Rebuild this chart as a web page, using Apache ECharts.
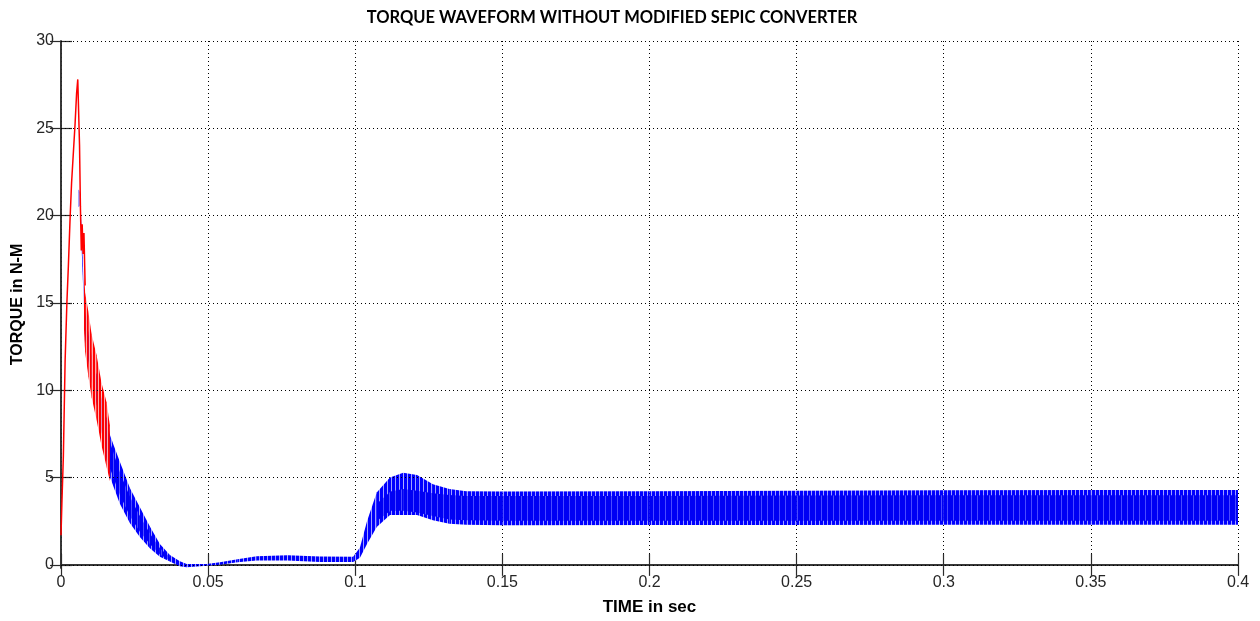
<!DOCTYPE html>
<html><head><meta charset="utf-8">
<script src="https://cdn.jsdelivr.net/npm/echarts@6/dist/echarts.min.js"></script>
<style>html,body{margin:0;padding:0;background:#fff}#c{width:1260px;height:621px}</style>
</head><body><div id="c"></div>
<script>
// ---- texts ----
const titleText = 'TORQUE WAVEFORM WITHOUT MODIFIED SEPIC CONVERTER';
const xName = 'TIME in sec';
const yName = 'TORQUE in N-M';

// ---- axes ----
const xMin = 0, xMax = 0.4, xInterval = 0.05;
const yMin = -0.18, yMax = 30;
const yTickValues = [0, 5, 10, 15, 20, 25, 30];

// ---- red trace: start-up spike (single line) ----
const redLineT = [0, 0.0003, 0.0008, 0.0014, 0.002, 0.0025, 0.0031, 0.0036, 0.0042, 0.0048, 0.0053, 0.0057, 0.006, 0.0063, 0.0066, 0.0069, 0.0072, 0.0075, 0.0078, 0.0082];
const redLineV = [1.7, 3.5, 6.2, 11.7, 15.0, 17.1, 19.9, 21.9, 23.6, 25.3, 27.0, 27.8, 27.8, 24.0, 20.5, 18.0, 19.5, 17.8, 19.0, 16.0];

// ---- red trace: fast ripple band (envelope) ----
const redBandT  = [0.0078, 0.0082, 0.0093, 0.0104, 0.0121, 0.0138, 0.0155, 0.0166];
const redBandHi = [16.8, 15.6, 14.5, 13.2, 12.0, 10.4, 9.3, 8.0];
const redBandLo = [13.5, 12.2, 10.8, 9.6, 8.3, 6.8, 5.6, 4.8];

// ---- blue trace: fast ripple band (outer envelope) ----
const blueT  = [0.006, 0.0066, 0.007, 0.0082, 0.0093, 0.0104, 0.0121, 0.0138, 0.0155, 0.0167, 0.02, 0.0234, 0.0268, 0.0302, 0.0336, 0.037, 0.0404, 0.0427, 0.0495, 0.054, 0.06, 0.0665, 0.077, 0.088, 0.0993, 0.1016, 0.104, 0.1073, 0.1118, 0.1163, 0.121, 0.1264, 0.132, 0.1377, 0.15, 0.2, 0.25, 0.3, 0.35, 0.4];
const blueHi = [21.5, 21.3, 18.9, 14.5, 13.3, 12.0, 10.9, 9.5, 8.4, 7.4, 5.9, 4.4, 3.3, 2.2, 1.2, 0.57, 0.2, 0.05, 0.05, 0.15, 0.32, 0.5, 0.55, 0.48, 0.46, 1.0, 2.5, 4.15, 5.0, 5.28, 5.15, 4.62, 4.34, 4.22, 4.2, 4.22, 4.25, 4.27, 4.28, 4.28];
const blueLo = [20.5, 20.6, 18.2, 13.0, 11.7, 10.5, 9.2, 7.6, 6.0, 5.0, 3.5, 2.4, 1.6, 0.95, 0.47, 0.19, -0.08, -0.13, -0.05, 0.0, 0.15, 0.25, 0.25, 0.17, 0.17, 0.4, 1.2, 2.17, 2.85, 2.85, 2.85, 2.55, 2.36, 2.3, 2.27, 2.28, 2.28, 2.29, 2.29, 2.29];

// ---- blue trace: dense core of the ripple (decay part) ----
const coreAT  = [0.0155, 0.0167, 0.02, 0.0234, 0.0268, 0.0302, 0.0336, 0.037];
const coreAHi = [7.9, 7.0, 5.3, 3.9, 2.8, 1.8, 0.95, 0.45];
const coreALo = [6.5, 5.5, 4.0, 2.8, 1.9, 1.2, 0.6, 0.25];

// ---- blue trace: dense core of the ripple (loaded part) ----
const coreBT  = [0.108, 0.112, 0.1163, 0.121, 0.1264, 0.132, 0.1377, 0.15, 0.2, 0.25, 0.3, 0.35, 0.4];
const coreBHi = [3.6, 4.2, 4.35, 4.25, 4.1, 4.0, 3.95, 3.95, 3.95, 3.97, 3.98, 3.98, 3.98];
const coreBLo = [2.6, 3.1, 3.1, 3.0, 2.8, 2.6, 2.55, 2.52, 2.52, 2.53, 2.53, 2.53, 2.53];

// ---- styles ----
function stripes(main, light, nMain) {
  const c = document.createElement('canvas');
  c.width = nMain + 1; c.height = 4;
  const g = c.getContext('2d');
  g.fillStyle = main; g.fillRect(0, 0, nMain, 4);
  g.fillStyle = light; g.fillRect(nMain, 0, 1, 4);
  return { image: c, repeat: 'repeat' };
}
const blueFill = stripes('#0000ff', '#a0a0ff', 3);
const blueCoreFill = stripes('#0000f4', '#4a4aff', 5);
const redFill = stripes('#ff0000', '#ffb0b0', 2);

function bandSeries(name, T, HI, LO, fill, z) {
  const data = [];
  for (let i = 0; i < T.length - 1; i++) {
    data.push([T[i], LO[i], HI[i], T[i + 1], LO[i + 1], HI[i + 1]]);
  }
  return {
    name, type: 'custom', xAxisIndex: 0, yAxisIndex: 0, z, clip: true, silent: true,
    encode: { x: [0, 3], y: [1, 2, 4, 5] },
    data,
    renderItem(params, api) {
      const a = api.coord([api.value(0), api.value(2)]);
      const b = api.coord([api.value(3), api.value(5)]);
      const c = api.coord([api.value(3), api.value(4)]);
      const d = api.coord([api.value(0), api.value(1)]);
      return { type: 'polygon', shape: { points: [a, b, c, d] }, style: { fill: fill, stroke: null } };
    }
  };
}

const gridLine = { color: '#000', type: [1, 3], width: 1 };
const axisFrame = { show: true, lineStyle: { color: '#2b2b2b', width: 1.5 } };
const tickStyle = { inside: true, length: 11, lineStyle: { color: '#2b2b2b', width: 1.2 } };
const labelFont = { fontFamily: '"Liberation Sans", Arial, sans-serif', fontSize: 16, color: '#262626' };

const chart = echarts.init(document.getElementById('c'), null, { renderer: 'canvas' });
chart.setOption({
  animation: false,
  backgroundColor: '#fff',
  grid: { left: 61, right: 22, top: 41, bottom: 53, containLabel: false },
  graphic: [{
    type: 'text', x: 612, y: 9,
    style: { text: titleText, textAlign: 'center', textVerticalAlign: 'top',
      font: 'bold 16.5px Lato, "Open Sans", sans-serif', fill: '#000' }
  }],
  xAxis: [{
    type: 'value', position: 'bottom', min: xMin, max: xMax, interval: xInterval,
    axisLine: axisFrame, axisTick: tickStyle,
    axisLabel: Object.assign({ margin: 7 }, labelFont),
    splitLine: { show: true, lineStyle: gridLine },
    name: xName, nameLocation: 'middle', nameGap: 31,
    nameTextStyle: { fontFamily: '"Liberation Sans", Arial, sans-serif', fontWeight: 'bold', fontSize: 17, color: '#000' }
  }, {
    type: 'value', position: 'top', min: xMin, max: xMax, interval: xInterval,
    axisLine: axisFrame, axisTick: tickStyle, axisLabel: { show: false }, splitLine: { show: false }
  }],
  yAxis: [{
    type: 'value', position: 'left', min: yMin, max: yMax,
    axisLine: axisFrame,
    axisTick: Object.assign({ customValues: yTickValues }, tickStyle),
    axisLabel: Object.assign({ margin: 7, customValues: yTickValues }, labelFont),
    splitLine: { show: false },
    name: yName, nameLocation: 'middle', nameGap: 34, nameRotate: 90,
    nameTextStyle: { fontFamily: '"Liberation Sans", Arial, sans-serif', fontWeight: 'bold', fontSize: 16, color: '#000' }
  }, {
    type: 'value', position: 'right', min: yMin, max: yMax,
    axisLine: axisFrame,
    axisTick: Object.assign({ customValues: yTickValues }, tickStyle),
    axisLabel: { show: false }, splitLine: { show: false }
  }],
  series: [
    {
      name: 'grid', type: 'line', data: [], z: 1, silent: true,
      markLine: {
        silent: true, symbol: ['none', 'none'], label: { show: false },
        lineStyle: gridLine, animation: false,
        data: yTickValues.map(v => ({ yAxis: v }))
      }
    },
    bandSeries('blue', blueT, blueHi, blueLo, blueFill, 3),
    bandSeries('blueCoreA', coreAT, coreAHi, coreALo, blueCoreFill, 3),
    bandSeries('blueCoreB', coreBT, coreBHi, coreBLo, blueCoreFill, 3),
    bandSeries('redBand', redBandT, redBandHi, redBandLo, redFill, 4),
    {
      name: 'red', type: 'line', z: 5, silent: true, showSymbol: false, symbol: 'none',
      data: redLineT.map((t, i) => [t, redLineV[i]]),
      lineStyle: { color: '#ff0000', width: 1.5 }
    }
  ]
});
</script>
</body></html>
